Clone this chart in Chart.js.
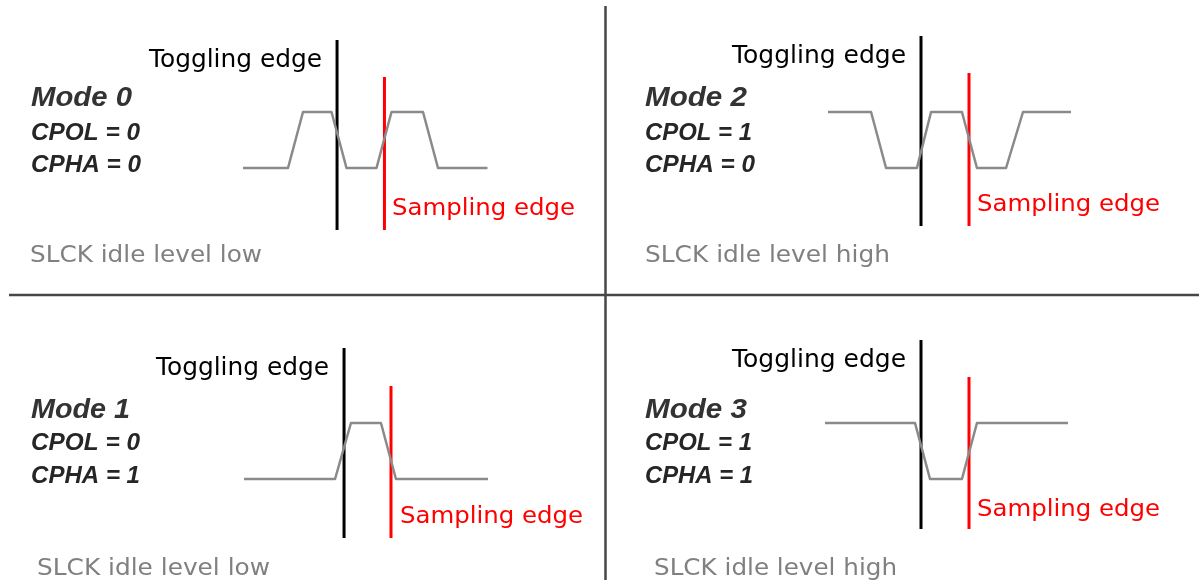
<!DOCTYPE html>
<html>
<head>
<meta charset="utf-8">
<script src="https://cdn.jsdelivr.net/npm/chart.js@4.4.1/dist/chart.umd.min.js"></script>
<style>
  html, body { margin: 0; padding: 0; background: #ffffff; }
  #wrap { position: relative; width: 1199px; height: 580px; }
</style>
</head>
<body>
<div id="wrap"><canvas id="c"></canvas></div>
<script>
// ---------------- DATA ----------------
const modeLabels   = ['Mode 0', 'Mode 1', 'Mode 2', 'Mode 3'];
const cpolValues   = [0, 0, 1, 1];
const cphaValues   = [0, 1, 0, 1];
const idleLabels   = ['SLCK idle level low', 'SLCK idle level low', 'SLCK idle level high', 'SLCK idle level high'];
const toggleLabel  = 'Toggling edge';
const sampleLabel  = 'Sampling edge';

// SCLK waveforms: time (arbitrary units) and logic level (0 = low, 1 = high)
const mode0Time  = [0, 3, 4, 5.9, 6.9, 8.9, 9.9, 12, 13, 16.3];
const mode0Level = [0, 0, 1, 1,   0,   0,   1,   1,  0,  0];
const mode1Time  = [0, 6.07, 7.13, 9.13, 10.13, 16.27];
const mode1Level = [0, 0,    1,    1,    0,     0];
const mode2Time  = [0, 2.87, 3.87, 5.93, 6.87, 8.93, 9.93, 11.87, 13, 16.2];
const mode2Level = [1, 1,    0,    0,    1,    1,    0,    0,     1,  1];
const mode3Time  = [0, 6, 7, 9.13, 10.13, 16.2];
const mode3Level = [1, 1, 0, 0,    1,     1];

// edge instants (same time units)
const toggleTimes = [6.27, 6.67, 6.2, 6.4];
const sampleTimes = [9.43, 9.8, 9.4, 9.6];

// ---------------- LAYOUT / STYLE ----------------
const W = 1199, H = 580;
const PX_PER_TIME = 15;      // horizontal scale
const PX_PER_LEVEL = 56;     // vertical scale
// per mode: waveform origin (left px), low-level baseline px, row
const panelLayout = [
  { originX: 243, lowY: 168, yAxis: 'yTop', toggleSpan: [-1.107, 2.286], sampleSpan: [-1.107, 1.625] },
  { originX: 244, lowY: 479, yAxis: 'yBot', toggleSpan: [-1.054, 2.339], sampleSpan: [-1.054, 1.661] },
  { originX: 828, lowY: 168, yAxis: 'yTop', toggleSpan: [-1.036, 2.357], sampleSpan: [-1.036, 1.696] },
  { originX: 825, lowY: 479, yAxis: 'yBot', toggleSpan: [-0.893, 2.482], sampleSpan: [-0.893, 1.821] }
];
const textLayout = [
  { toggle:{x:149,y:67,w:173}, title:{x:31,y:106,w:101}, cpol:{x:31,y:140,w:109}, cpha:{x:31,y:172,w:110}, sample:{x:392,y:215,w:183}, idle:{x:30,y:262,w:232} },
  { toggle:{x:156,y:375,w:173}, title:{x:31,y:418,w:99}, cpol:{x:31,y:450,w:109}, cpha:{x:31,y:483,w:109}, sample:{x:400,y:523,w:183}, idle:{x:37,y:575,w:233} },
  { toggle:{x:732,y:63,w:174}, title:{x:645,y:106,w:102}, cpol:{x:645,y:140,w:107}, cpha:{x:645,y:172,w:110}, sample:{x:977,y:211,w:183}, idle:{x:645,y:262,w:245} },
  { toggle:{x:732,y:367,w:174}, title:{x:645,y:418,w:102}, cpol:{x:645,y:450,w:107}, cpha:{x:645,y:483,w:108}, sample:{x:977,y:516,w:183}, idle:{x:654,y:575,w:243} }
];
const FONT_LABEL = '24px "DejaVu Sans", Verdana, sans-serif';
const FONT_IDLE  = '23px "DejaVu Sans", Verdana, sans-serif';
const FONT_TITLE = 'italic bold 28px "Liberation Sans", Arial, sans-serif';
const FONT_PARAM = 'italic bold 23px "Liberation Sans", Arial, sans-serif';

const waveTimes  = [mode0Time, mode1Time, mode2Time, mode3Time];
const waveLevels = [mode0Level, mode1Level, mode2Level, mode3Level];

// ---------------- BUILD ----------------
const scales = {};
panelLayout.forEach((p, i) => {
  scales['x' + i] = { type: 'linear', display: false, min: -p.originX / PX_PER_TIME, max: (W - p.originX) / PX_PER_TIME };
});
scales.yTop = { type: 'linear', display: false, min: -(H - 168) / PX_PER_LEVEL, max: 168 / PX_PER_LEVEL };
scales.yBot = { type: 'linear', display: false, min: -(H - 479) / PX_PER_LEVEL, max: 479 / PX_PER_LEVEL };

const datasets = [];
panelLayout.forEach((p, i) => {
  datasets.push({
    label: modeLabels[i] + ' SCLK',
    data: waveTimes[i].map((t, k) => ({ x: t, y: waveLevels[i][k] })),
    xAxisID: 'x' + i, yAxisID: p.yAxis,
    showLine: true, borderColor: '#8a8a8a', borderWidth: 2.5, pointRadius: 0, tension: 0,
    borderJoinStyle: 'round', clip: false
  });
  datasets.push({
    label: modeLabels[i] + ' toggle',
    data: [{ x: toggleTimes[i], y: p.toggleSpan[0] }, { x: toggleTimes[i], y: p.toggleSpan[1] }],
    xAxisID: 'x' + i, yAxisID: p.yAxis,
    showLine: true, borderColor: '#000000', borderWidth: 3, pointRadius: 0, borderCapStyle: 'butt', clip: false
  });
  datasets.push({
    label: modeLabels[i] + ' sample',
    data: [{ x: sampleTimes[i], y: p.sampleSpan[0] }, { x: sampleTimes[i], y: p.sampleSpan[1] }],
    xAxisID: 'x' + i, yAxisID: p.yAxis,
    showLine: true, borderColor: '#ff0000', borderWidth: 3, pointRadius: 0, borderCapStyle: 'butt', clip: false
  });
});

function fitText(ctx, text, spec, font, color) {
  ctx.save();
  ctx.font = font;
  ctx.fillStyle = color;
  ctx.textBaseline = 'alphabetic';
  ctx.textAlign = 'left';
  const m = ctx.measureText(text).width;
  const sx = spec.w && m > 0 ? spec.w / m : 1;
  ctx.translate(spec.x, spec.y);
  ctx.scale(sx, 1);
  ctx.fillText(text, 0, 0);
  ctx.restore();
}

const framePlugin = {
  id: 'frame',
  beforeDatasetsDraw(chart) {
    const ctx = chart.ctx;
    ctx.save();
    ctx.strokeStyle = '#474747';
    ctx.lineWidth = 2.5;
    ctx.beginPath();
    ctx.moveTo(9, 295); ctx.lineTo(W, 295);
    ctx.moveTo(605.5, 6); ctx.lineTo(605.5, H);
    ctx.stroke();
    ctx.restore();
  },
  afterDatasetsDraw(chart) {
    const ctx = chart.ctx;
    textLayout.forEach((t, i) => {
      fitText(ctx, toggleLabel, t.toggle, FONT_LABEL, '#000000');
      fitText(ctx, modeLabels[i], t.title, FONT_TITLE, '#333333');
      fitText(ctx, 'CPOL = ' + cpolValues[i], t.cpol, FONT_PARAM, '#262626');
      fitText(ctx, 'CPHA = ' + cphaValues[i], t.cpha, FONT_PARAM, '#262626');
      fitText(ctx, sampleLabel, t.sample, FONT_IDLE, '#ff0000');
      fitText(ctx, idleLabels[i], t.idle, FONT_IDLE, '#808080');
    });
  }
};

new Chart(document.getElementById('c'), {
  type: 'scatter',
  data: { datasets },
  options: {
    responsive: true,
    maintainAspectRatio: false,
    animation: false,
    layout: { padding: 0 },
    scales,
    plugins: { legend: { display: false }, tooltip: { enabled: false }, title: { display: false } },
    events: []
  },
  plugins: [framePlugin]
});
</script>
</body>
</html>
